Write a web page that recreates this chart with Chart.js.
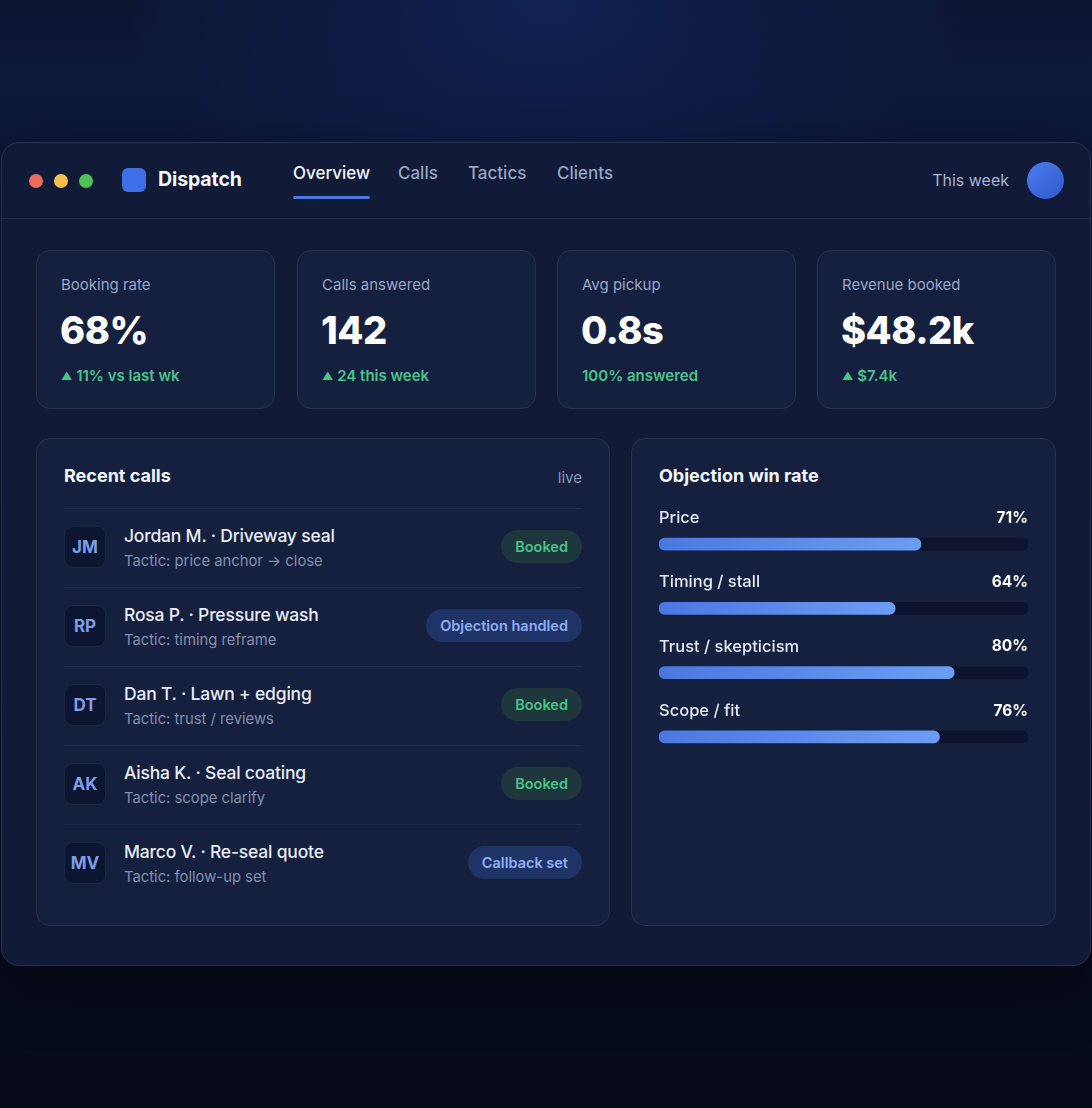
<!DOCTYPE html>
<html>
<head>
<meta charset="utf-8">
<title>Dispatch</title>
<script src="https://cdn.jsdelivr.net/npm/chart.js@4.4.1/dist/chart.umd.min.js"></script>
<style>
  html, body { margin: 0; padding: 0; }
  body {
    width: 1092px; height: 1108px; overflow: hidden; position: relative;
    font-family: Inter, "Noto Sans", sans-serif;
    background:
      radial-gradient(ellipse 420px 260px at 50% 0%, rgba(22,44,110,0.5), rgba(22,44,110,0) 100%),
      linear-gradient(#0c1633 0%, #0d1738 12%, #0b1430 60%, #070c1d 88%, #060a19 100%);
  }
  .win {
    position: absolute; left: 1px; top: 142px; width: 1088px; height: 822px;
    background: #111a36; border: 1px solid #26324f; border-radius: 18px;
    box-shadow: 0 20px 60px rgba(0,0,0,0.45);
  }
  .head { position: absolute; left: 0; top: 0; right: 0; height: 75px; border-bottom: 1px solid #212c49; }
  .dot { position: absolute; top: 31px; width: 14px; height: 14px; border-radius: 50%; }
  .logo { position: absolute; left: 120px; top: 25px; width: 24px; height: 24px; border-radius: 6px; background: #3f6fe6; }
  .brand { position: absolute; left: 156px; top: 24px; font-size: 19.5px; font-weight: 700; color: #f3f6fc; letter-spacing: -0.1px; }
  .nav { position: absolute; top: 20px; font-size: 17px; color: #97a4c3; font-weight: 500; }
  .nav.on { color: #f3f6fc; }
  .uline { position: absolute; left: 291px; top: 53px; width: 77px; height: 3px; border-radius: 2px; background: #4a78e0; }
  .week { position: absolute; right: 81px; top: 27px; font-size: 16px; color: #a9b4cf; }
  .avatar { position: absolute; left: 1025px; top: 19px; width: 37px; height: 37px; border-radius: 50%;
    background: linear-gradient(135deg, #4d7cf0, #2f59c9); }
  .card {
    position: absolute; background: #14203e; border: 1px solid #25314f; border-radius: 14px; box-sizing: border-box;
  }
  .kpi { top: 107px; width: 239px; height: 159px; }
  .kpi .lab { position: absolute; left: 24px; top: 24px; font-size: 15px; color: #9aa6c4; }
  .kpi .val { position: absolute; left: 23px; top: 56px; font-size: 38px; font-weight: 800; color: #ffffff; letter-spacing: -0.5px; }
  .kpi .dl { position: absolute; left: 24px; top: 115px; font-size: 15px; font-weight: 600; color: #4cc38a; }
  .kpi .dl .tri { font-size: 11px; position: relative; top: -1px; }
  .ptitle { position: absolute; top: 26px; font-size: 18px; font-weight: 700; color: #f3f6fc; }
  .live { position: absolute; right: 27px; top: 29px; font-size: 15px; color: #8a96b4; }
  .rows { position: absolute; left: 27px; right: 27px; top: 69px; }
  .row { position: relative; height: 78px; border-top: 1px solid #202b47; }
  .ini { position: absolute; left: 0; top: 17px; width: 42px; height: 42px; border-radius: 9px; background: #0d1630;
    border: 1px solid #1d2843; box-sizing: border-box; color: #7f9de8; font-weight: 700; font-size: 17px;
    display: flex; align-items: center; justify-content: center; }
  .nm { position: absolute; left: 60px; top: 16px; font-size: 17.5px; font-weight: 500; color: #e7ecf6; letter-spacing: -0.2px; }
  .tc { position: absolute; left: 60px; top: 43px; font-size: 14.8px; color: #8390ad; }
  .badge { position: absolute; right: 0; top: 21px; height: 33px; border-radius: 17px; padding: 0 14px;
    font-size: 14.5px; font-weight: 600; line-height: 33px; }
  .bk { background: #1d373c; color: #4cc38a; }
  .ob { background: #1e3466; color: #8fb0f2; }
  #chartBox { position: absolute; left: 26px; top: 51px; width: 370px; height: 290px; }
</style>
</head>
<body>
<div class="win">
  <div class="head">
    <div class="dot" style="left:27px;background:#ec6a5e"></div>
    <div class="dot" style="left:52px;background:#f4bf4f"></div>
    <div class="dot" style="left:77px;background:#4fc257"></div>
    <div class="logo"></div>
    <div class="brand">Dispatch</div>
    <div class="nav on" style="left:291px">Overview</div>
    <div class="uline"></div>
    <div class="nav" style="left:396px">Calls</div>
    <div class="nav" style="left:466px">Tactics</div>
    <div class="nav" style="left:555px">Clients</div>
    <div class="week">This week</div>
    <div class="avatar"></div>
  </div>

  <div class="card kpi" style="left:34px">
    <div class="lab">Booking rate</div><div class="val">68%</div>
    <div class="dl"><span class="tri">▲</span> 11% vs last wk</div>
  </div>
  <div class="card kpi" style="left:295px">
    <div class="lab">Calls answered</div><div class="val">142</div>
    <div class="dl"><span class="tri">▲</span> 24 this week</div>
  </div>
  <div class="card kpi" style="left:555px">
    <div class="lab">Avg pickup</div><div class="val">0.8s</div>
    <div class="dl">100% answered</div>
  </div>
  <div class="card kpi" style="left:815px">
    <div class="lab">Revenue booked</div><div class="val">$48.2k</div>
    <div class="dl"><span class="tri">▲</span> $7.4k</div>
  </div>

  <div class="card" style="left:34px;top:295px;width:574px;height:488px">
    <div class="ptitle" style="left:27px">Recent calls</div>
    <div class="live">live</div>
    <div class="rows" id="rows"></div>
  </div>

  <div class="card" style="left:629px;top:295px;width:425px;height:488px">
    <div class="ptitle" style="left:27px">Objection win rate</div>
    <div id="chartBox"><canvas id="winChart"></canvas></div>
  </div>
</div>

<script>
var categories = ['Price', 'Timing / stall', 'Trust / skepticism', 'Scope / fit'];
var winRates = [71, 64, 80, 76];
var scaleMax = 100;

var callInitials = ['JM', 'RP', 'DT', 'AK', 'MV'];
var callNames = ['Jordan M. · Driveway seal', 'Rosa P. · Pressure wash', 'Dan T. · Lawn + edging', 'Aisha K. · Seal coating', 'Marco V. · Re-seal quote'];
var callTactics = ['Tactic: price anchor → close', 'Tactic: timing reframe', 'Tactic: trust / reviews', 'Tactic: scope clarify', 'Tactic: follow-up set'];
var callStatus = ['Booked', 'Objection handled', 'Booked', 'Booked', 'Callback set'];

var rows = document.getElementById('rows');
for (var i = 0; i < callNames.length; i++) {
  var r = document.createElement('div');
  r.className = 'row';
  var cls = callStatus[i] === 'Booked' ? 'bk' : 'ob';
  r.innerHTML = '<div class="ini">' + callInitials[i] + '</div>' +
    '<div class="nm">' + callNames[i] + '</div>' +
    '<div class="tc">' + callTactics[i] + '</div>' +
    '<div class="badge ' + cls + '">' + callStatus[i] + '</div>';
  rows.appendChild(r);
}

// labels above each bar, value on the right
var barLabels = {
  id: 'barLabels',
  afterDatasetsDraw: function(chart) {
    var ctx = chart.ctx;
    var area = chart.chartArea;
    var meta = chart.getDatasetMeta(0);
    ctx.save();
    ctx.textBaseline = 'middle';
    meta.data.forEach(function(bar, i) {
      var y = bar.y - 26;
      ctx.textAlign = 'left';
      ctx.fillStyle = '#e3e8f4';
      ctx.font = '500 16.5px Inter';
      ctx.fillText(categories[i], area.left, y);
      ctx.textAlign = 'right';
      ctx.fillStyle = '#ffffff';
      ctx.font = '700 15.5px Inter';
      ctx.fillText(winRates[i] + '%', area.right, y);
    });
    ctx.restore();
  }
};

new Chart(document.getElementById('winChart'), {
  type: 'bar',
  data: {
    labels: categories,
    datasets: [{
      label: 'Win rate',
      data: winRates,
      order: 0,
      backgroundColor: function(c) {
        var chart = c.chart;
        if (!chart.chartArea || c.parsed === undefined) return '#4f80e8';
        var x0 = chart.scales.x.getPixelForValue(0);
        var x1 = chart.scales.x.getPixelForValue(c.parsed.x);
        var g = chart.ctx.createLinearGradient(x0, 0, x1, 0);
        g.addColorStop(0, '#4a78e2');
        g.addColorStop(1, '#6a9ef3');
        return g;
      },
      borderRadius: 6,
      borderSkipped: false,
      barThickness: 12
    }, {
      label: 'Track',
      data: categories.map(function() { return scaleMax; }),
      order: 1,
      backgroundColor: '#0c1430',
      borderRadius: 6,
      borderSkipped: false,
      barThickness: 12
    }]
  },
  options: {
    indexAxis: 'y',
    responsive: true,
    maintainAspectRatio: false,
    animation: false,
    datasets: { bar: { grouped: false } },
    layout: { padding: { top: 22, bottom: 11, left: 1, right: 0 } },
    scales: {
      x: { display: false, min: 0, max: scaleMax },
      y: { display: false }
    },
    plugins: {
      legend: { display: false },
      tooltip: { enabled: false }
    }
  },
  plugins: [barLabels]
});
</script>
</body>
</html>
